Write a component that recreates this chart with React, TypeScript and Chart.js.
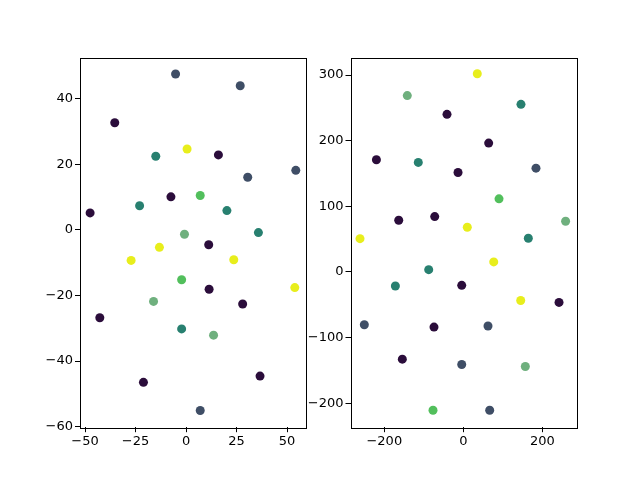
import React, { useEffect, useRef } from "react";
import { Chart, registerables } from "chart.js";

Chart.register(...registerables);

const palette = ["#2b0d3b", "#3f4e66", "#288070", "#52bf5c", "#6fb07e", "#e8ee1c"];

const leftX = [-5.2, 26.8, -35.3, 0.5, 16, -15, 54.3, 30.5, -7.5, 7, -23, -47.5, 20.2, 35.8, -0.8, 11.2, -13.2, -27.2, 23.6, -2.2, 11.4, 53.8, -16.1, 28, -42.7, -2.2, 13.6, 36.6, -21.1, 7];
const leftY = [47.6, 44, 32.7, 24.7, 22.9, 22.5, 18.2, 16.1, 10.1, 10.5, 7.4, 5.2, 5.9, -0.8, -1.3, -4.5, -5.3, -9.3, -9.1, -15.2, -18.1, -17.6, -21.8, -22.6, -26.8, -30.2, -32.1, -44.6, -46.5, -55.1];
const leftC = [1, 1, 0, 5, 0, 2, 1, 1, 0, 3, 2, 0, 2, 2, 4, 0, 5, 5, 5, 3, 0, 5, 4, 0, 0, 2, 4, 0, 0, 1];

const rightX = [35.4, -141.8, 146, -41.3, 64.2, -220, -114, 184, -13.4, 90.4, -163.5, -72.4, 10.1, 259, -261.5, 164.6, 77, -87.6, -172, -4, 145.3, 242.3, -250.6, -74.2, 62.5, -154.4, -4, 157, -76.7, 66.8];
const rightY = [302, 268.7, 255.4, 240.2, 196.4, 171, 166.9, 158.2, 151.6, 111.4, 78.8, 84.4, 68.1, 77.3, 50.8, 51.3, 15.3, 3.5, -21.4, -20.4, -43.4, -46.4, -80.5, -84, -82.4, -132.8, -141, -144, -210.7, -210.7];
const rightC = [5, 4, 2, 0, 0, 0, 2, 1, 0, 3, 0, 0, 5, 4, 5, 2, 5, 2, 2, 0, 5, 0, 1, 0, 1, 0, 1, 4, 3, 1];

const leftXTicks = [-50, -25, 0, 25, 50];
const leftYTicks = [-60, -40, -20, 0, 20, 40];
const rightXTicks = [-200, 0, 200];
const rightYTicks = [-200, -100, 0, 100, 200, 300];

const frame = {
  id: "frame",
  afterDraw(chart: any) {
    const { ctx, chartArea } = chart;
    ctx.save();
    ctx.strokeStyle = "#000";
    ctx.lineWidth = 1;
    ctx.strokeRect(
      Math.round(chartArea.left) + 0.5,
      Math.round(chartArea.top) + 0.5,
      Math.round(chartArea.right - chartArea.left),
      Math.round(chartArea.bottom - chartArea.top)
    );
    ctx.restore();
  },
};

function axis(min: number, max: number, ticks: number[], fit: (s: any) => void) {
  return {
    type: "linear",
    min,
    max,
    afterBuildTicks: (s: any) => {
      s.ticks = ticks.map((v) => ({ value: v }));
    },
    afterFit: fit,
    grid: { display: true, drawOnChartArea: false, drawTicks: true, tickLength: 5, color: "#000" },
    border: { display: false },
    ticks: {
      color: "#000",
      padding: 2,
      maxRotation: 0,
      autoSkip: false,
      font: { family: "DejaVu Sans", size: 13 },
      callback: (v: any) => String(v).replace("-", "\u2212"),
    },
  };
}

function Panel(props: {
  xs: number[]; ys: number[]; cs: number[];
  xr: [number, number]; yr: [number, number];
  xt: number[]; yt: number[];
  left: number; width: number; yWidth: number; rightPad: number;
}) {
  const ref = useRef<HTMLCanvasElement>(null);
  useEffect(() => {
    const data = props.xs.map((x, i) => ({ x, y: props.ys[i] }));
    const colors = props.cs.map((c) => palette[c]);
    const chart = new Chart(ref.current as HTMLCanvasElement, {
      type: "scatter",
      data: {
        datasets: [
          {
            data,
            backgroundColor: colors,
            borderColor: colors,
            borderWidth: 0,
            pointRadius: 4.5,
            pointHoverRadius: 4.5,
          },
        ],
      },
      options: {
        animation: false,
        responsive: false,
        events: [],
        layout: { padding: { top: 57.6, right: props.rightPad, bottom: 0, left: 0 } },
        plugins: { legend: { display: false }, tooltip: { enabled: false } },
        scales: {
          x: axis(props.xr[0], props.xr[1], props.xt, (s: any) => { s.height = 52.8; }),
          y: axis(props.yr[0], props.yr[1], props.yt, (s: any) => { s.width = props.yWidth; }),
        } as any,
      },
      plugins: [frame],
    });
    return () => chart.destroy();
  }, []);
  return (
    <canvas
      ref={ref}
      width={props.width}
      height={480}
      style={{ position: "absolute", left: props.left, top: 0, width: props.width, height: 480 }}
    />
  );
}

export default function App() {
  return (
    <div style={{ position: "absolute", left: 0, top: 0, width: 640, height: 480, background: "#fff" }}>
      <Panel xs={leftX} ys={leftY} cs={leftC} xr={[-52.5, 59.1]} yr={[-60.2, 52.6]} xt={leftXTicks} yt={leftYTicks} left={0} width={320} yWidth={80} rightPad={14.5} />
      <Panel xs={rightX} ys={rightY} cs={rightC} xr={[-285.6, 285.3]} yr={[-236.5, 326.6]} xt={rightXTicks} yt={rightYTicks} left={290} width={350} yWidth={60.5} rightPad={64} />
    </div>
  );
}
